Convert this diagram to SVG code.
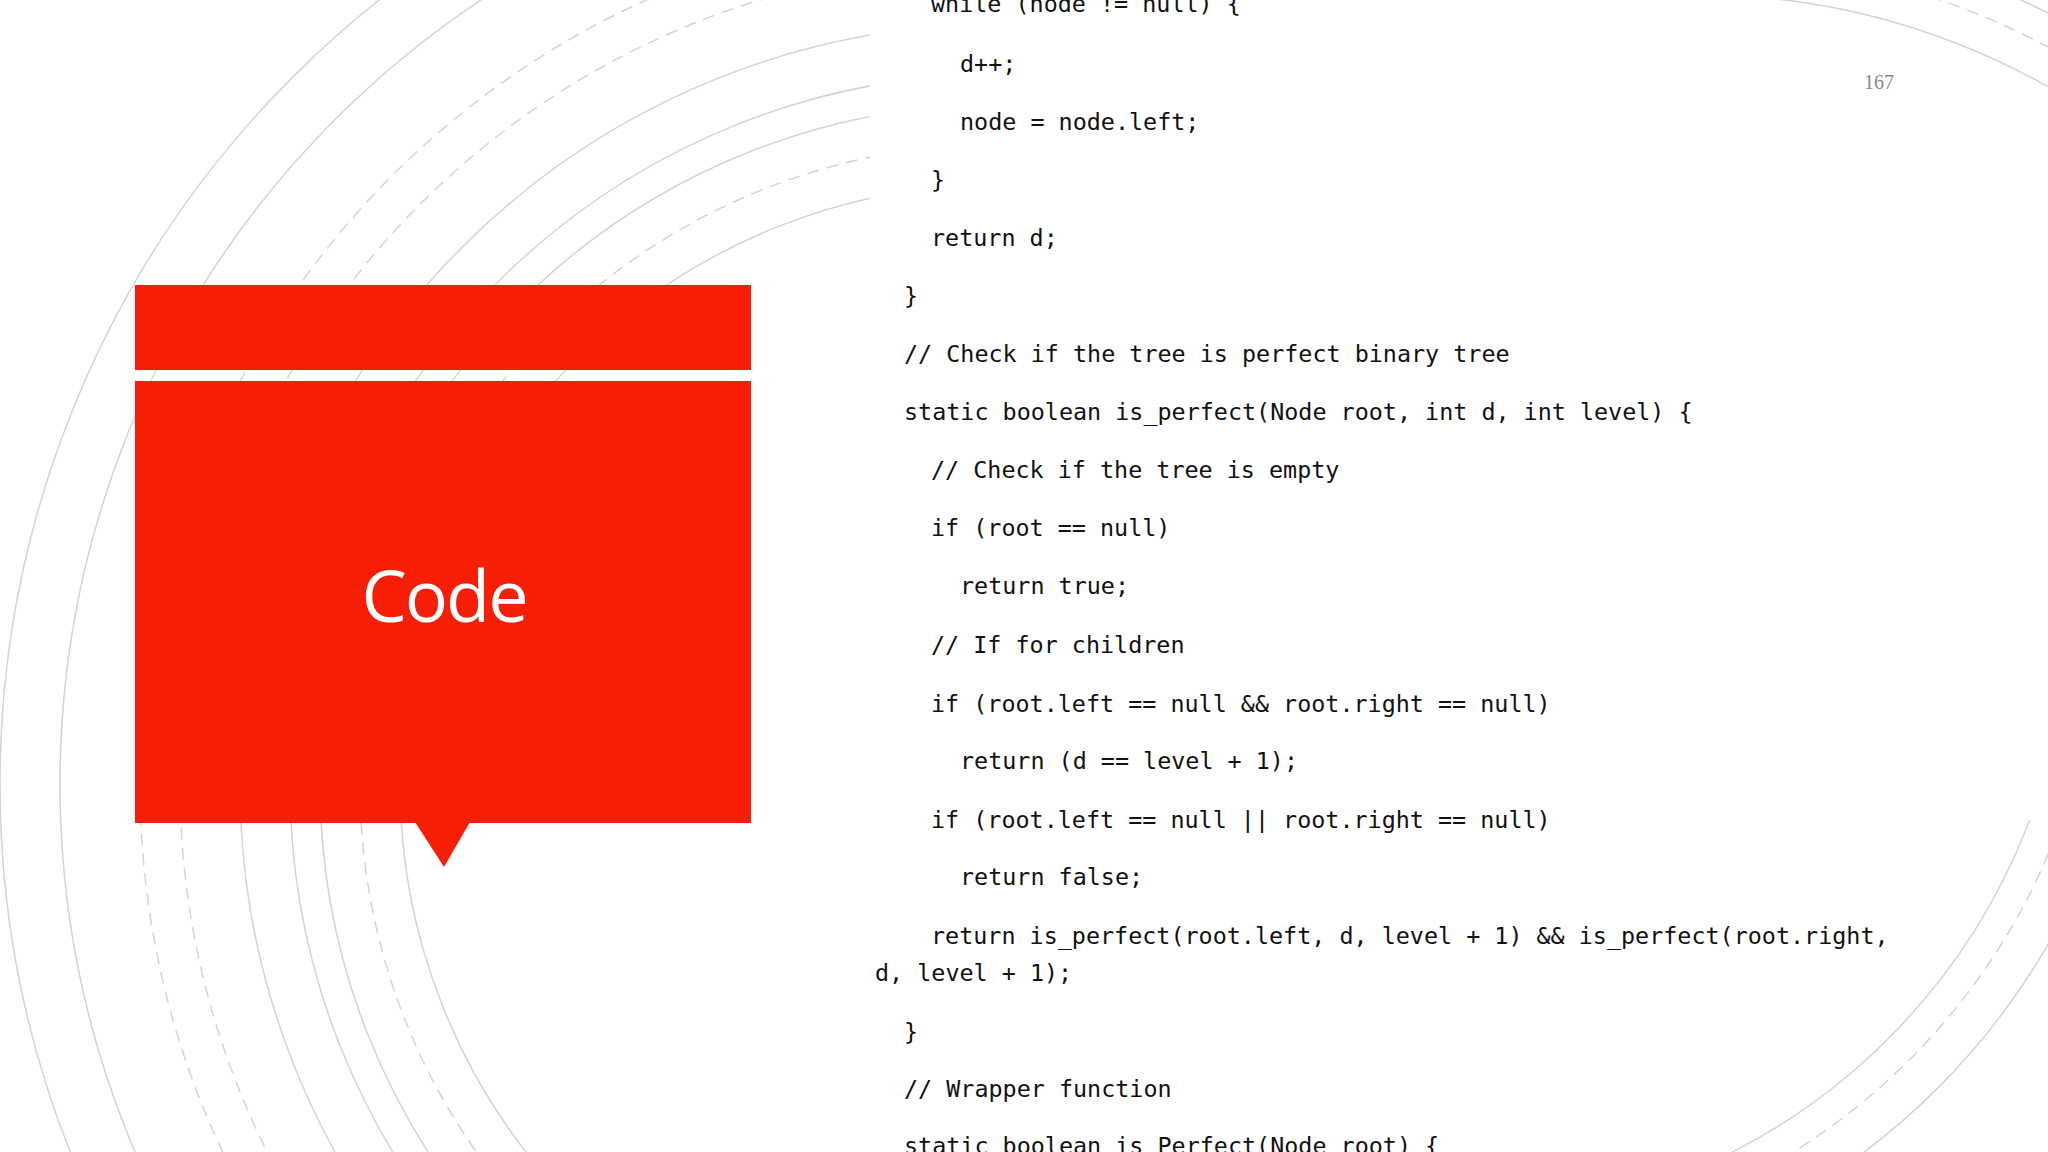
<svg xmlns="http://www.w3.org/2000/svg" width="2048" height="1152" viewBox="0 0 2048 1152">
<style>
.a{fill:none;stroke:#d4d4d4;stroke-width:1.5}
.d{fill:none;stroke:#d4d4d4;stroke-width:1.5;stroke-dasharray:12 8}
.c{font-family:"DejaVu Sans Mono","Liberation Mono",monospace;font-size:23.4px;fill:#111;white-space:pre}
</style>
<defs>
<clipPath id="cl"><rect x="0" y="0" width="870" height="1152"/></clipPath>
<clipPath id="ct"><rect x="1760" y="0" width="300" height="130"/></clipPath>
<clipPath id="cb"><rect x="1700" y="820" width="360" height="340"/></clipPath>
</defs>
<rect width="2048" height="1152" fill="#fff"/>
<g id="bg">
<g clip-path="url(#cl)">
<circle class="a" cx="1000" cy="784" r="1000"/>
<circle class="a" cx="1000" cy="784" r="940"/>
<circle class="d" cx="1000" cy="784" r="860"/>
<circle class="d" cx="1000" cy="784" r="820"/>
<circle class="a" cx="1000" cy="784" r="760"/>
<circle class="a" cx="1000" cy="784" r="710"/>
<circle class="a" cx="1000" cy="784" r="680"/>
<circle class="d" cx="1000" cy="784" r="640"/>
<circle class="a" cx="1000" cy="784" r="600"/>
</g>
<g clip-path="url(#ct)">
<circle class="a" cx="1700" cy="700" r="705"/>
<circle class="d" cx="1700" cy="700" r="740"/>
<circle class="a" cx="1700" cy="700" r="770"/>
</g>
<g clip-path="url(#cb)">
<circle class="a" cx="1450" cy="600" r="620"/>
<circle class="d" cx="1450" cy="600" r="650"/>
<circle class="a" cx="1450" cy="600" r="690"/>
</g>
</g>
<g id="title">
<rect x="135" y="285" width="616" height="85" fill="#f71e06"/>
<rect x="135" y="381" width="616" height="442" fill="#f71e06"/>
<polygon points="415,822 470,822 444,867" fill="#f71e06"/>
<text x="444" y="622" text-anchor="middle" font-family="Open Sans, Liberation Sans, sans-serif" font-size="72" letter-spacing="-2" fill="#fff">Code</text>
</g>
<text x="1879" y="89" text-anchor="middle" font-family="Liberation Serif, serif" font-size="20" fill="#888">167</text>
<g id="code">
<text class="c" x="931" y="12">while (node != null) {</text>
<text class="c" x="960" y="72">d++;</text>
<text class="c" x="960" y="130">node = node.left;</text>
<text class="c" x="931" y="188">}</text>
<text class="c" x="931" y="246">return d;</text>
<text class="c" x="904" y="304">}</text>
<text class="c" x="904" y="362">// Check if the tree is perfect binary tree</text>
<text class="c" x="904" y="420">static boolean is_perfect(Node root, int d, int level) {</text>
<text class="c" x="931" y="478">// Check if the tree is empty</text>
<text class="c" x="931" y="536">if (root == null)</text>
<text class="c" x="960" y="594">return true;</text>
<text class="c" x="931" y="653">// If for children</text>
<text class="c" x="931" y="712">if (root.left == null &amp;&amp; root.right == null)</text>
<text class="c" x="960" y="769">return (d == level + 1);</text>
<text class="c" x="931" y="828">if (root.left == null || root.right == null)</text>
<text class="c" x="960" y="885">return false;</text>
<text class="c" x="931" y="944">return is_perfect(root.left, d, level + 1) &amp;&amp; is_perfect(root.right,</text>
<text class="c" x="875" y="981">d, level + 1);</text>
<text class="c" x="904" y="1040">}</text>
<text class="c" x="904" y="1097">// Wrapper function</text>
<text class="c" x="904" y="1154">static boolean is_Perfect(Node root) {</text>
</g>
</svg>
